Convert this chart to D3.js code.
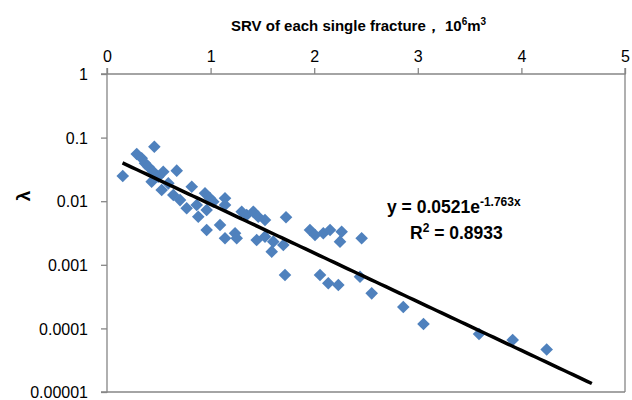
<!DOCTYPE html>
<html>
<head>
<meta charset="utf-8">
<script src="https://cdn.jsdelivr.net/npm/d3@7"></script>
<style>
html,body{margin:0;padding:0;background:#fff;}
svg{display:block;}
text{font-family:"Liberation Sans",Arial,sans-serif;}
</style>
</head>
<body>
<svg id="chart" width="632" height="400"></svg>
<script>
// SRV of each single fracture (10^6 m^3)
const srv = [0.152,0.457,0.287,0.335,0.367,0.399,0.447,0.495,0.543,0.673,
  0.431,0.528,0.592,0.640,0.705,0.818,0.769,0.866,0.881,0.946,
  0.994,0.962,1.026,1.139,1.139,0.962,1.091,1.139,1.236,1.252,
  1.300,1.348,1.412,1.460,1.525,1.445,1.525,1.605,1.590,1.702,
  1.728,1.718,1.959,2.008,2.088,2.153,2.265,2.249,2.458,2.056,
  2.136,2.233,2.442,2.555,2.860,3.055,3.591,3.916,4.244];
// lambda
const lambda = [0.0249,0.0719,0.0552,0.0473,0.0394,0.0348,0.0291,0.0243,0.0291,0.0302,
  0.0203,0.0150,0.0191,0.0125,0.0104,0.0169,0.00773,0.00871,0.00570,0.0133,
  0.0111,0.00728,0.00982,0.0111,0.00871,0.00352,0.00423,0.00261,0.00313,0.00261,
  0.00684,0.00607,0.00684,0.00570,0.00506,0.00245,0.00277,0.00231,0.00161,0.00205,
  0.00558,0.000692,0.00352,0.00294,0.00313,0.00352,0.00331,0.00231,0.00261,0.000692,
  0.000512,0.000481,0.000650,0.000356,0.000217,0.000117,0.0000817,0.0000658,0.0000466];
const xTicks = [0,1,2,3,4,5];
const yTicks = [1,0.1,0.01,0.001,0.0001,0.00001];
const yTickLabels = ["1","0.1","0.01","0.001","0.0001","0.00001"];
const fitA = 0.0521, fitB = -1.763;
const fitRange = [0.15, 4.68];
const eqText = "y = 0.0521e";
const eqExp = "-1.763x";
const r2Text = "= 0.8933";
const xTitle = "SRV of each single fracture，";
const yTitle = "λ";

const svg = d3.select("#chart");
const L = 107, R = 625, T = 74, B = 392;
const x = d3.scaleLinear().domain([0,5]).range([L,R]);
const y = d3.scaleLog().domain([1e-5,1]).range([B,T]);
const axisColor = "#868686";

// plot frame (right & bottom borders)
svg.append("line").attr("x1",R).attr("x2",R).attr("y1",T).attr("y2",B).attr("stroke",axisColor).attr("stroke-width",1.3);
svg.append("line").attr("x1",L).attr("x2",R).attr("y1",B).attr("y2",B).attr("stroke",axisColor).attr("stroke-width",1.3);

// x axis at top
const xAxis = d3.axisTop(x).tickValues(xTicks).tickSize(6).tickFormat(d3.format("d"));
const gx = svg.append("g").attr("transform",`translate(0,${T})`).call(xAxis);
gx.select(".domain").attr("stroke",axisColor).attr("stroke-width",1.3).attr("d",`M${L},-6V0H${R}V-6`);
gx.selectAll(".tick line").attr("stroke",axisColor).attr("stroke-width",1.3);
gx.selectAll(".tick text").attr("font-size",16).attr("fill","#000").attr("y",-12).attr("dy","0");

// y axis log
const yAxis = d3.axisLeft(y).tickValues(yTicks).tickSize(6).tickFormat((d,i)=>yTickLabels[yTicks.indexOf(d)]);
const gy = svg.append("g").attr("transform",`translate(${L},0)`).call(yAxis);
gy.select(".domain").attr("stroke",axisColor).attr("stroke-width",1.3).attr("d",`M-6,${T}H0V${B}H-6`);
gy.selectAll(".tick line").attr("stroke",axisColor).attr("stroke-width",1.3);
gy.selectAll(".tick text").attr("font-size",16).attr("fill","#000").attr("x",-19).attr("dy","0.35em");

// points
const diamond = "M0,-6.3L6.3,0L0,6.3L-6.3,0Z";
svg.append("g").selectAll("path").data(srv.map((d,i)=>[d,lambda[i]])).join("path")
  .attr("d",diamond)
  .attr("transform",d=>`translate(${x(d[0])},${y(d[1])})`)
  .attr("fill","#4f81bd");

// trend line
const fitX = d3.range(0,101).map(i=>fitRange[0]+(fitRange[1]-fitRange[0])*i/100);
svg.append("path").datum(fitX)
  .attr("d",d3.line().x(d=>x(d)).y(d=>y(fitA*Math.exp(fitB*d))))
  .attr("fill","none").attr("stroke","#000").attr("stroke-width",3.5);

// equation
const eq = svg.append("text").attr("x",387).attr("y",213).attr("font-size",17.5).attr("font-weight","bold").attr("fill","#000");
eq.append("tspan").text(eqText);
eq.append("tspan").attr("dy",-7).attr("font-size",12).text(eqExp);
const r2 = svg.append("text").attr("x",410).attr("y",239).attr("font-size",17.5).attr("font-weight","bold").attr("fill","#000");
r2.append("tspan").text("R");
r2.append("tspan").attr("dy",-7).attr("font-size",12).text("2");
r2.append("tspan").attr("dy",7).text(" " + r2Text);

// x title
const xt = svg.append("text").attr("x",231).attr("y",31).attr("font-size",15).attr("font-weight","bold").attr("fill","#000");
xt.append("tspan").text(xTitle);
xt.append("tspan").text(" 10");
xt.append("tspan").attr("dy",-6).attr("font-size",10).text("6");
xt.append("tspan").attr("dy",6).text("m");
xt.append("tspan").attr("dy",-6).attr("font-size",10).text("3");

// y title
svg.append("text").attr("transform","translate(23,196) rotate(-90)").attr("text-anchor","middle").attr("dy","0.35em")
  .attr("font-size",19).attr("font-weight","bold").attr("fill","#000").text(yTitle);
</script>
</body>
</html>
